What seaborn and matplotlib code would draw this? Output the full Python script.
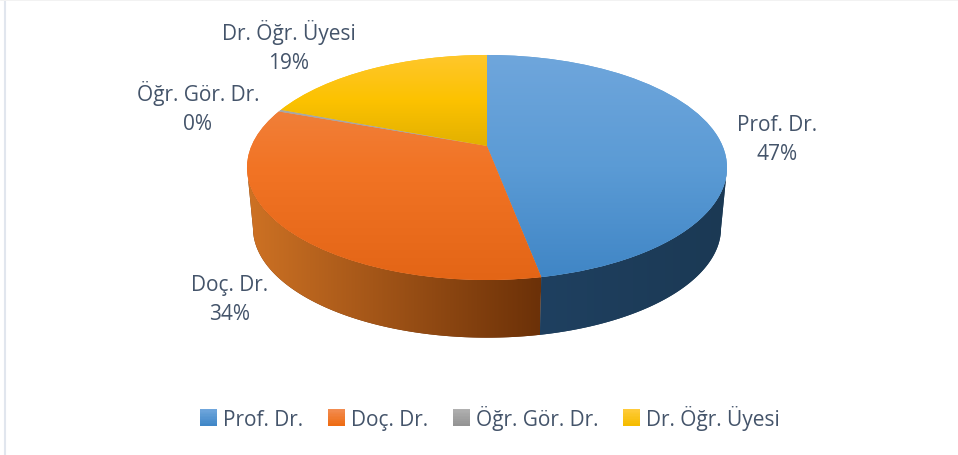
import numpy as np
import matplotlib
matplotlib.use("Agg")
import matplotlib.pyplot as plt
import seaborn as sns
from matplotlib.legend_handler import HandlerBase
from matplotlib.patches import Patch, Polygon, Rectangle
from matplotlib.transforms import Transform

categories = ["Prof. Dr.", "Doç. Dr.", "Öğr. Gör. Dr.", "Dr. Öğr. Üyesi"]
shares = [47, 33.5, 0.3, 19.2]
shown_pct = [47, 34, 0, 19]

top_colors = [
    ["#6FA6DC", "#5B9BD5", "#3F85C5"],
    ["#EF8A4D", "#F27425", "#E36516"],
    ["#ABABAB", "#A5A5A5", "#929292"],
    ["#FFC72E", "#FCC200", "#E2B000"],
]
# only the two front slices show a wall
wall_colors = [
    ["#1F4060", "#1B3954"],
    ["#CE7224", "#6C3108"],
]
wall_extents = [(540, 727, 340, 100), (247, 540, 340, 100)]
legend_colors = [
    ["#6FA6DC", "#4187C7"],
    ["#F28C50", "#EE6C14"],
    ["#B0B0B0", "#949494"],
    ["#FFCB3A", "#F5BC00"],
]
label_pos = [(777, 140), (230, 300), (198, 108), (289, 47)]

TEXT = "#44546A"
FONT = "Open Sans"
CX, CY = 487, 147
TILT = 0.191


class PieProjection(Transform):
    # tilted disc seen in perspective, gives pixels
    input_dims = 2
    output_dims = 2
    is_separable = False
    has_inverse = False

    def __init__(self, scale=1.0, drop=0.0):
        super().__init__()
        self.scale = scale
        self.drop = drop

    def transform_non_affine(self, values):
        values = np.asarray(values)
        w = 1 + TILT * values[:, 1]
        px = CX + self.scale * 235.6 * values[:, 0] / w
        py = CY + self.drop - self.scale * 108.4 * values[:, 1] / w
        return np.column_stack([px, py])


class GradientHandler(HandlerBase):
    def create_artists(self, legend, orig_handle, xdescent, ydescent,
                       width, height, fontsize, trans):
        cmap = sns.blend_palette(orig_handle.stops, as_cmap=True)
        n = 12
        side = 12
        out = []
        for i in range(n):
            y0 = (height - side) / 2 + side * (n - i - 1) / n
            out.append(Rectangle((width - side, y0), side, side / n + 0.3,
                                 facecolor=cmap(i / (n - 1)), lw=0,
                                 transform=trans))
        return out


sns.set_theme(style="white")
plt.rcParams["font.family"] = [FONT, "DejaVu Sans"]

fig = plt.figure(figsize=(9.58, 4.56), dpi=100)
ax = fig.add_axes([0, 0, 1, 1])

wedges, _ = ax.pie(shares, startangle=90, counterclock=False, radius=1)

top_proj = PieProjection()
wall_proj = PieProjection(scale=0.975, drop=61)

# side walls first, the top surfaces cover the hidden part
for wedge, stops, extent in zip(wedges, wall_colors, wall_extents):
    t = np.radians(np.linspace(wedge.theta1, wedge.theta2, 300))
    arc = np.column_stack([np.cos(t), np.sin(t)])
    # keep the part in front of the tangent points of the outline
    arc = arc[arc[:, 1] <= -TILT]
    upper = top_proj.transform_non_affine(arc)
    lower = wall_proj.transform_non_affine(arc)
    band = Polygon(np.vstack([upper, lower[::-1]]), closed=True,
                   facecolor=stops[1], edgecolor="none", zorder=1)
    ax.add_patch(band)
    im = ax.imshow(np.linspace(0, 1, 256)[None, :], aspect="auto", zorder=2,
                   extent=extent, cmap=sns.blend_palette(stops, as_cmap=True))
    im.set_clip_path(band)

for wedge, stops in zip(wedges, top_colors):
    wedge.set_transform(top_proj + ax.transData)
    wedge.set_facecolor(stops[1])
    wedge.set_edgecolor("none")
    wedge.set_zorder(3)
    im = ax.imshow(np.linspace(0, 1, 256)[:, None], aspect="auto", zorder=4,
                   extent=(240, 735, 282, 54) if stops is not top_colors[3]
                   else (240, 735, 148, 54),
                   cmap=sns.blend_palette(stops, as_cmap=True))
    im.set_clip_path(wedge)

for name, pct, (x, y) in zip(categories, shown_pct, label_pos):
    ax.text(x, y, f"{name}\n{pct}%", ha="center", va="center", color=TEXT,
            fontsize=15, linespacing=1.55, zorder=6)

ax.set_aspect("auto")
ax.set_xlim(0, 958)
ax.set_ylim(456, 0)
ax.set_frame_on(False)
ax.axvline(5, color="#E1E6EE", lw=1.5, zorder=0)
ax.axhline(0.5, color="#F2F2F2", lw=0.7, zorder=0)

handles = []
for name, stops in zip(categories, legend_colors):
    h = Patch(label=name)
    h.stops = stops
    handles.append(h)
ax.legend(handles=handles, ncol=4, frameon=False, loc="center",
          bbox_to_anchor=(490 / 958, 1 - 419 / 456),
          handler_map={Patch: GradientHandler()},
          labelcolor=TEXT, fontsize=15, handlelength=0.8, handleheight=0.8,
          handletextpad=0.3, columnspacing=1.2, borderpad=0, borderaxespad=0)

fig.savefig("out.png", dpi=100)
